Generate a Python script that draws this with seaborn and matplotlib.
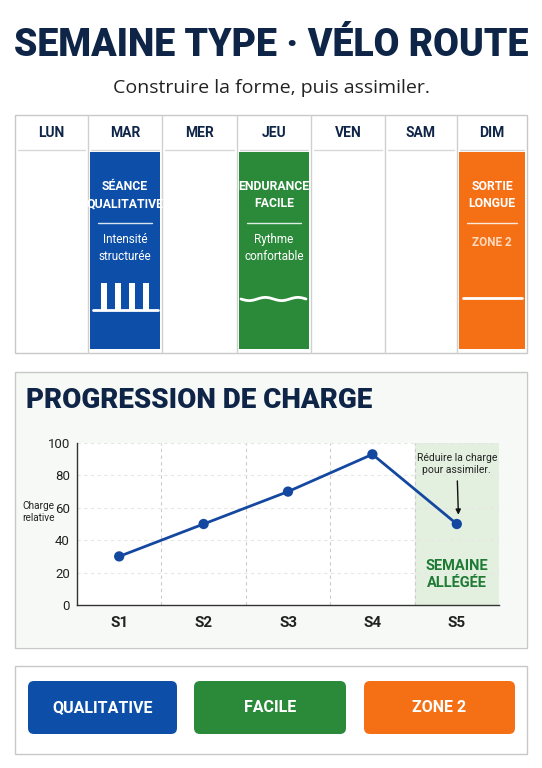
import matplotlib
matplotlib.use("Agg")
import matplotlib.pyplot as plt
from matplotlib.patches import Rectangle, FancyBboxPatch
import numpy as np
import pandas as pd
import seaborn as sns

sns.set_theme(style="white")
plt.rcParams['font.family'] = ['Roboto', 'DejaVu Sans']

days = ["LUN", "MAR", "MER", "JEU", "VEN", "SAM", "DIM"]
weeks = ["S1", "S2", "S3", "S4", "S5"]
charge = [30, 50, 70, 93, 50]
legend_labels = ["QUALITATIVE", "FACILE", "ZONE 2"]

BLUE = "#0d4fa8"; GREEN = "#2a8a3a"; ORANGE = "#f56f14"; NAVY = "#0f2548"

W, H = 542, 768
fig = plt.figure(figsize=(W/100, H/100), dpi=100)
fig.patch.set_facecolor("white")
ov = fig.add_axes([0, 0, 1, 1])
ov.set_xlim(0, W); ov.set_ylim(H, 0); ov.axis("off")

ov.text(271, 45, "SEMAINE TYPE · VÉLO ROUTE", ha="center", va="center",
        fontsize=27, fontweight="heavy", color=NAVY)
ov.text(271, 88, "Construire la forme, puis assimiler.", ha="center", va="center",
        fontsize=14, color="#222222", family=["Open Sans", "DejaVu Sans"])

# Week panel
ov.add_patch(Rectangle((15, 115), 512, 238, fill=False, ec="#c8c8c8", lw=1))
edges = [15, 88, 162, 237, 311, 385, 457, 527]
for e in edges[1:-1]:
    ov.plot([e, e], [115, 353], color="#d0d0d0", lw=1)
for i, d in enumerate(days):
    cx = (edges[i] + edges[i+1]) / 2
    ov.text(cx, 133, d, ha="center", va="center", fontsize=10, fontweight="bold", color=NAVY)
    ov.plot([edges[i]+3, edges[i+1]-3], [150, 150], color="#d8d8d8", lw=1)

cards = [(1, BLUE, "SÉANCE\nQUALITATIVE", "Intensité\nstructurée"),
         (3, GREEN, "ENDURANCE\nFACILE", "Rythme\nconfortable"),
         (6, ORANGE, "SORTIE\nLONGUE", "ZONE 2")]
for i, c, t, s in cards:
    x0, x1 = edges[i]+2, edges[i+1]-2
    ov.add_patch(Rectangle((x0, 152), x1-x0, 197, color=c, lw=0))
    cx = (x0+x1)/2
    ov.text(cx, 195, t, ha="center", va="center", fontsize=8.8, fontweight="bold",
            color="white", linespacing=1.4)
    ov.plot([x0+8, x1-8], [223, 223], color="white", lw=1, alpha=0.85)
    col = "white" if i != 6 else "#ffd9bd"
    ov.text(cx, 248 if i != 6 else 242, s, ha="center", va="center", fontsize=8.5,
            color=col, linespacing=1.35, fontweight="bold" if i == 6 else "normal")
# icons
ov.plot([93, 158], [310, 310], color="white", lw=2)
for bx in [104, 118, 132, 146]:
    ov.add_patch(Rectangle((bx-3, 283), 6, 27, color="white", lw=0))
xw = np.linspace(241, 306, 80)
ov.plot(xw, 299 + 1.6*np.sin((xw-241)/65*4*np.pi), color="white", lw=2)
ov.plot([463, 522], [298, 298], color="white", lw=2)

# Chart panel
ov.add_patch(Rectangle((15, 372), 512, 276, fill=False, ec="#c8c8c8", lw=1))
ov.add_patch(Rectangle((16, 373), 510, 274, color="#f7f9f6", lw=0, zorder=0))
ov.text(26, 400, "PROGRESSION DE CHARGE", ha="left", va="center",
        fontsize=20, fontweight="heavy", color=NAVY)

ax = fig.add_axes([77/W, 1-605/H, (499-77)/W, (605-443)/H])
ax.set_facecolor("white")
df = pd.DataFrame({"week": weeks, "charge": charge, "x": range(len(weeks))})
ax.axvspan(3.5, 4.5, color="#e3efdf", zorder=0)
for b in [0.5, 1.5, 2.5, 3.5]:
    ax.axvline(b, color="#cccccc", lw=0.8, ls=(0, (3, 3)), zorder=0.5)
for yv in [20, 40, 60, 80, 100]:
    ax.axhline(yv, color="#e6e6e6", lw=0.8, ls=(0, (3, 3)), zorder=0.5)
sns.lineplot(data=df, x="x", y="charge", ax=ax, color="#1448a0", lw=2, zorder=3)
sns.scatterplot(data=df, x="x", y="charge", ax=ax, color="#1448a0", s=55,
                edgecolor="none", zorder=4)
ax.set_xlim(-0.5, 4.5); ax.set_ylim(0, 100)
ax.set_xticks(range(len(weeks)))
ax.set_xticklabels(weeks, fontsize=11, fontweight="bold", color="#222222")
ax.set_yticks([0, 20, 40, 60, 80, 100])
ax.tick_params(axis="y", labelsize=9.5, colors="#222222", length=0, pad=5)
ax.tick_params(axis="x", length=0, pad=8)
ax.set_xlabel(""); ax.set_ylabel("")
for s in ["top", "right"]:
    ax.spines[s].set_visible(False)
for s in ["left", "bottom"]:
    ax.spines[s].set_color("#333333"); ax.spines[s].set_linewidth(1)
ax.annotate("Réduire la charge\npour assimiler.", xy=(4.02, 54), xytext=(4.0, 87),
            ha="center", va="center", fontsize=7.5, color="#222222",
            arrowprops=dict(arrowstyle="-|>", color="#111111", lw=1))
ax.text(4.0, 19, "SEMAINE\nALLÉGÉE", ha="center", va="center", fontsize=10.5,
        fontweight="bold", color="#1e7a34", linespacing=1.3)
ov.text(22, 512, "Charge\nrelative", ha="left", va="center", fontsize=7.2, color="#222222")

# Legend panel
ov.add_patch(Rectangle((15, 666), 512, 88, fill=False, ec="#c8c8c8", lw=1))
for (x0, x1), c, lab in zip([(28, 177), (194, 346), (364, 515)], [BLUE, GREEN, ORANGE], legend_labels):
    ov.add_patch(FancyBboxPatch((x0, 681), x1-x0, 53, boxstyle="round,pad=0,rounding_size=6",
                                color=c, lw=0))
    ov.text((x0+x1)/2, 708, lab, ha="center", va="center", fontsize=11.5,
            fontweight="bold", color="white")

fig.savefig("out.png", dpi=100)
